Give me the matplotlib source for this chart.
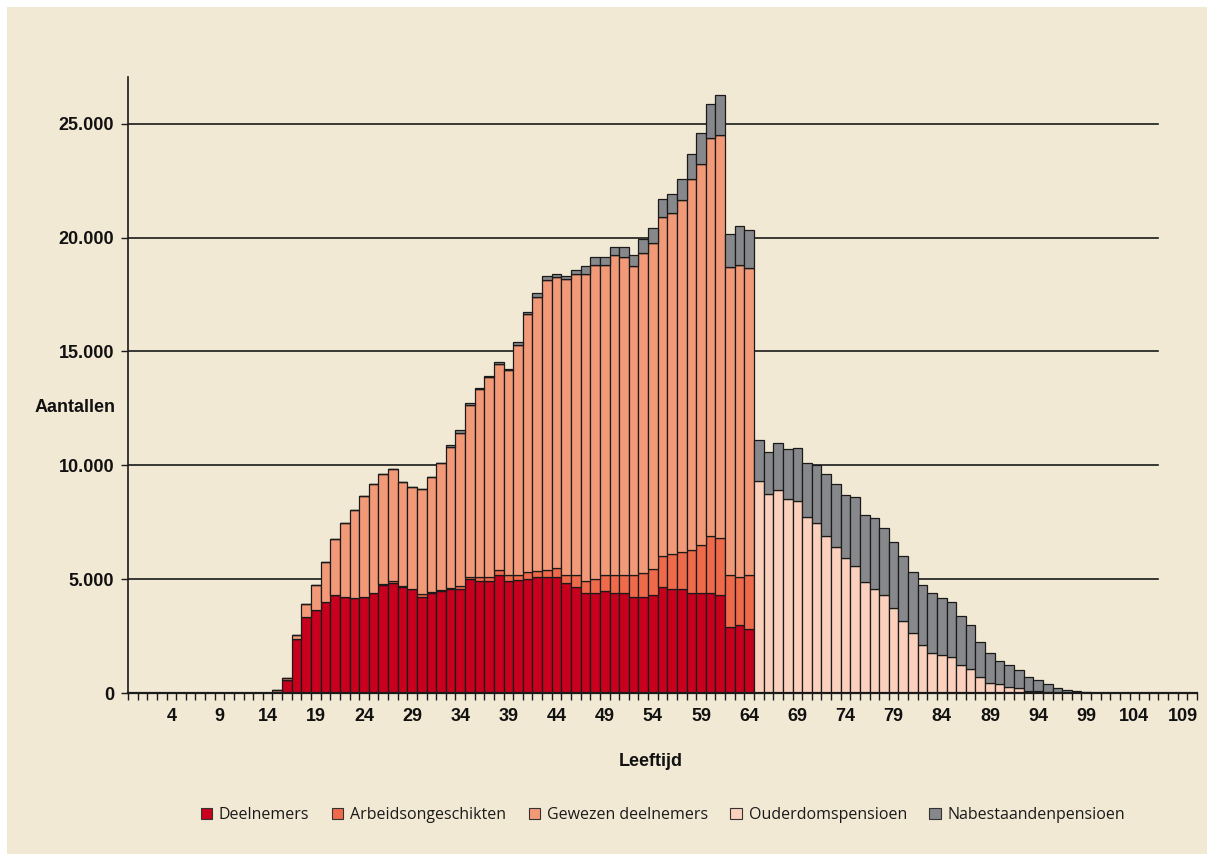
import numpy as np
import matplotlib
matplotlib.use("Agg")
import matplotlib.pyplot as plt
from matplotlib.patches import Patch, Rectangle

# ---- data (ages 0..110; values listed for ages 15..100, zero elsewhere) ----
ages = list(range(0, 111))
first_age = 15

deelnemers = [50, 560, 2390, 3330, 3660, 4000, 4306, 4232, 4160, 4218,
              4408, 4746, 4847, 4671, 4555, 4232, 4394, 4482, 4570, 4570,
              4996, 4908, 4908, 5172, 4908, 4950, 4994, 5082, 5082, 5082,
              4818, 4643, 4408, 4408, 4467, 4408, 4408, 4232, 4232, 4306,
              4643, 4555, 4555, 4408, 4408, 4408, 4306, 2886, 2988, 2812]

arbeidsongeschikten = [0, 0, 0, 0, 0, 0, 0, 0, 0, 0,
                       0, 30, 60, 30, 30, 100, 50, 60, 60, 120,
                       100, 176, 176, 233, 264, 220, 322, 263, 322, 410,
                       352, 527, 498, 586, 703, 762, 762, 938, 1026, 1128,
                       1377, 1553, 1641, 1876, 2095, 2491, 2505, 2284, 2094, 2358]

gewezen = [100, 80, 170, 600, 1085, 1760, 2460, 3238, 3880, 4438,
           4775, 4832, 4950, 4570, 4466, 4632, 5062, 5579, 6194, 6748,
           7529, 8259, 8786, 9037, 9021, 10121, 11322, 12040, 12728, 12758,
           13010, 13210, 13490, 13798, 13622, 14061, 13973, 13563, 14061, 14324,
           14895, 14969, 15466, 16286, 16741, 17458, 17677, 13534, 13724, 13475]

ouderdom = [0] * 50 + [9330, 8744, 8920, 8524, 8436, 7748, 7484, 6913, 6430, 5917,
                       5580, 4892, 4555, 4291, 3749, 3149, 2651, 2124, 1743, 1655,
                       1567, 1216, 1069, 718, 454, 381, 278, 205, 103, 90,
                       30, 10, 5, 0, 0, 0]

nabestaanden = [0, 0, 0, 0, 0, 0, 0, 0, 0, 0,
                0, 0, 0, 0, 0, 0, 0, 0, 60, 100,
                100, 45, 30, 100, 30, 115, 90, 200, 175, 140,
                140, 185, 337, 351, 351, 351, 439, 513, 615, 645,
                776, 849, 908, 1099, 1348, 1509, 1788, 1450, 1685, 1670,
                1758, 1860, 2080, 2183, 2344, 2373, 2549, 2695, 2753, 2768,
                3032, 2944, 3119, 2959, 2901, 2856, 2680, 2606, 2665, 2504,
                2432, 2182, 1904, 1500, 1289, 1040, 967, 791, 615, 466,
                351, 224, 127, 73, 59, 20]

series_names = ["Deelnemers", "Arbeidsongeschikten", "Gewezen deelnemers",
                "Ouderdomspensioen", "Nabestaandenpensioen"]
series_colors = ["#C8001E", "#EE6A4A", "#F29A78", "#FBD0BC", "#87888B"]

yticks = [0, 5000, 10000, 15000, 20000, 25000]
ytick_labels = ["0", "5.000", "10.000", "15.000", "20.000", "25.000"]
xtick_ages = list(range(4, 110, 5))


def full(vals):
    arr = np.zeros(len(ages))
    arr[first_age:first_age + len(vals)] = vals
    return arr


data = [full(deelnemers), full(arbeidsongeschikten), full(gewezen),
        full(ouderdom), full(nabestaanden)]

# ---- figure ----
BG = "#F2E9D5"
W, H = 1214, 861
fig = plt.figure(figsize=(W / 100, H / 100), dpi=100, facecolor="white")
fig.patches.append(Rectangle((7 / W, 7 / H), 1 - 14 / W, 1 - 14 / H,
                             transform=fig.transFigure, facecolor=BG,
                             edgecolor="none", zorder=-10))

ax = fig.add_axes([128 / W, 1 - 693 / H, (1197 - 128) / W, (693 - 77) / H])
ax.set_facecolor("none")

x = np.array(ages)
bottom = np.zeros(len(ages))
for vals, name, col in zip(data, series_names, series_colors):
    ax.bar(x, vals, width=1.0, bottom=bottom, color=col, edgecolor="#1a1a1a",
           linewidth=0.9, label=name, zorder=3)
    bottom = bottom + vals

ax.set_xlim(-0.5, 110.5)
ax.set_ylim(0, 27050)

# gridlines (stop before right end like the original)
for yv in yticks[1:]:
    ax.plot([-0.5, 106.4], [yv, yv], color="#1a1a1a", linewidth=1.2, zorder=1)

for side in ["top", "right"]:
    ax.spines[side].set_visible(False)
ax.spines["left"].set_color("#1a1a1a")
ax.spines["bottom"].set_color("#1a1a1a")
ax.spines["left"].set_linewidth(1.2)
ax.spines["bottom"].set_linewidth(1.6)
ax.spines["bottom"].set_zorder(5)

LBL = dict(fontsize=13, fontweight="bold", family="Liberation Sans", color="#111111")

ax.set_yticks(yticks)
ax.set_yticklabels(ytick_labels, **LBL)
ax.tick_params(axis="y", length=5, width=1, color="#1a1a1a", pad=5)

ax.set_xticks([a for a in xtick_ages])
ax.set_xticklabels([str(a) for a in xtick_ages], **LBL)
ax.tick_params(axis="x", which="major", length=0, pad=11)
ax.set_xticks(np.arange(-0.5, 111, 1.0), minor=True)
ax.tick_params(axis="x", which="minor", length=5, width=1, color="#1a1a1a")

fig.text(116 / W, 1 - 408 / H, "Aantallen", ha="right", va="center", **LBL)
fig.text(651 / W, 1 - 762 / H, "Leeftijd", ha="center", va="center", **LBL)

handles = [Patch(facecolor=c, edgecolor="#333333", linewidth=0.8) for c in series_colors]
leg = fig.legend(handles, series_names, loc="center", ncol=5,
                 bbox_to_anchor=(663 / W, 1 - 815 / H), frameon=False,
                 prop={"family": "Open Sans", "size": 11.5},
                 handlelength=0.7, handleheight=0.7, handletextpad=0.45,
                 columnspacing=1.4)
for t in leg.get_texts():
    t.set_color("#1a1a1a")

fig.savefig("out.png", dpi=100, facecolor="white")
